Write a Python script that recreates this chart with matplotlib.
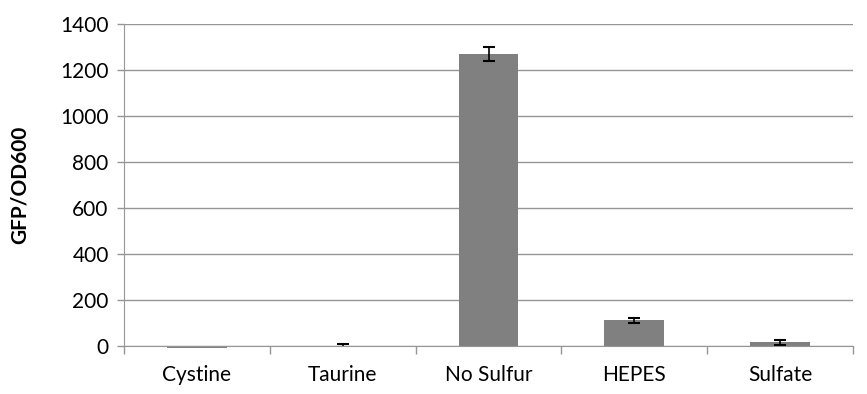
import numpy as np
import matplotlib.pyplot as plt

plt.rcParams['font.family'] = ['Lato', 'DejaVu Sans']

categories = ['Cystine', 'Taurine', 'No Sulfur', 'HEPES', 'Sulfate']
values = [-7, -2, 1270, 112, 17]
errors = [0, 9, 30, 11, 11]
y_ticks = [0, 200, 400, 600, 800, 1000, 1200, 1400]

grid_color = '#969696'

fig = plt.figure(figsize=(8.67, 3.94), dpi=100)
ax = fig.add_axes([124 / 867, 48 / 394, 729 / 867, 322 / 394])

x = np.arange(len(categories))
bars = ax.bar(x, values, width=0.41, color='#808080', zorder=3)
for b in bars:
    b.set_clip_on(False)
ax.errorbar(x, values, yerr=errors, fmt='none', ecolor='black',
            elinewidth=1.2, capsize=4.5, capthick=1.5, zorder=4)

ax.set_xlim(-0.5, len(categories) - 0.5)
ax.set_ylim(0, 1400)
ax.set_yticks(y_ticks)
ax.set_yticklabels([str(t) for t in y_ticks], fontsize=15)
ax.set_xticks(x)
ax.set_xticklabels(categories, fontsize=15)
ax.tick_params(axis='x', length=0, pad=14)
ax.tick_params(axis='y', length=5, color=grid_color, width=1, pad=6)

# category separators below the axis
ax.set_xticks(np.arange(-0.5, len(categories)), minor=True)
ax.tick_params(axis='x', which='minor', length=6, color=grid_color, width=1)

ax.grid(axis='y', color=grid_color, linewidth=1, zorder=0)
ax.set_axisbelow(True)
for side in ['top', 'right']:
    ax.spines[side].set_visible(False)
ax.spines['left'].set_color(grid_color)
ax.spines['bottom'].set_color(grid_color)
ax.spines['bottom'].set_zorder(5)

ax.set_ylabel('GFP/OD600', fontsize=15, fontweight='bold', labelpad=22)

fig.savefig('out.png', dpi=100)
